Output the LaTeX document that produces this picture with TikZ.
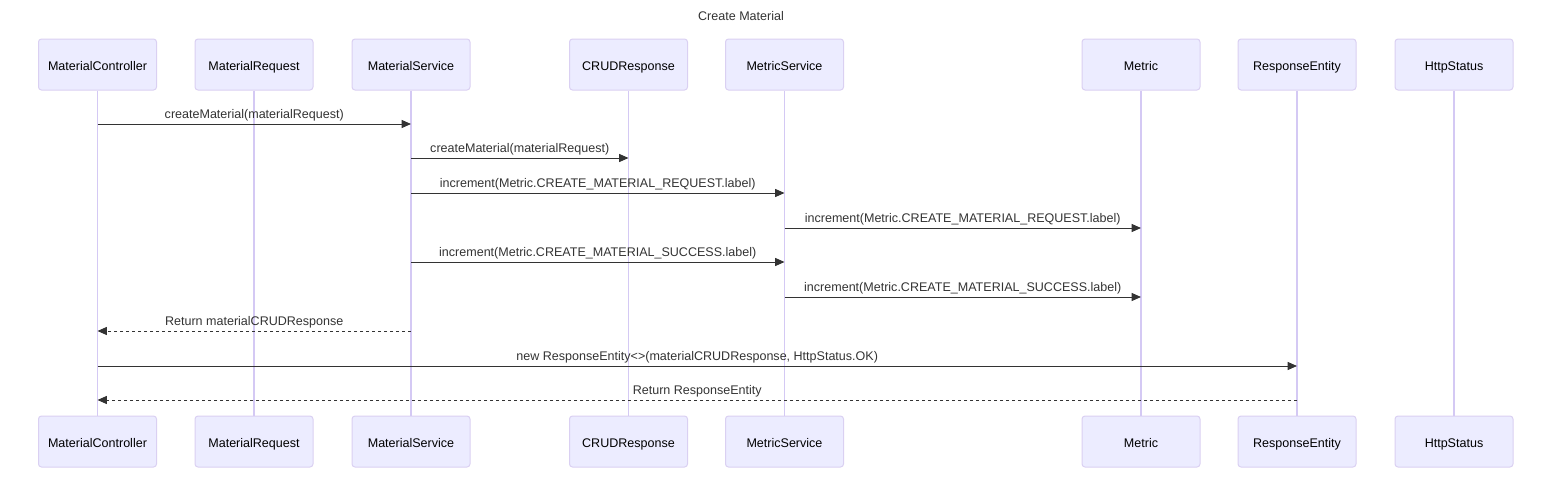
\documentclass[tikz,border=0pt]{standalone}
\usepackage{fontspec}
\setmainfont{Liberation Sans}
\usetikzlibrary{arrows.meta}
\definecolor{actorfill}{HTML}{ECECFF}
\definecolor{actorborder}{HTML}{DAD0F2}
\definecolor{lifecol}{HTML}{D4C9F4}
\definecolor{msgcol}{HTML}{333333}
\newcommand{\dfont}{\fontsize{9.4}{11.5}\selectfont}
\begin{document}
\begin{tikzpicture}[x=0.75pt,y=-0.75pt,
  actor/.style={draw=actorborder, fill=actorfill, line width=0.75pt, rounded corners=2.25pt,
    minimum width=88.5pt, minimum height=38.25pt, inner sep=0pt, font=\dfont, text=black,
    text height=1.9ex, text depth=0.1ex},
  life/.style={draw=lifecol, line width=1.2pt},
  msg/.style={draw=msgcol, line width=0.75pt, -{Triangle[length=7pt,width=6pt]}},
  ret/.style={msg, dash pattern=on 2.25pt off 2.25pt},
  lbl/.style={font=\dfont, text=msgcol, inner sep=0pt, text height=1.6ex, text depth=0.4ex, yshift=7.3pt}]
\useasboundingbox (0,0) rectangle (1568,482);
\node[font=\dfont, text=msgcol] (title) at (741,16) {Create Material};
% actors
\foreach \n/\x/\t in {mc/97.5/MaterialController, mr/254/MaterialRequest, ms/411/MaterialService,
  cr/628.5/CRUDResponse, mt/784.5/MetricService, me/1141/Metric, re/1297/ResponseEntity, hs/1454/HttpStatus}{
  \node[actor] (\n T) at (\x,64.5) {\t};
  \node[actor] (\n B) at (\x,441.5) {\t};
}
% lifelines
\foreach \n in {mc,mr,ms,cr,mt,me,re,hs}{
  \draw[life] (\n T.south) -- (\n B.north);
}
% message rows
\coordinate (m1) at (0,124);
\coordinate (m2) at (0,158);
\coordinate (m3) at (0,193);
\coordinate (m4) at (0,228);
\coordinate (m5) at (0,262);
\coordinate (m6) at (0,297);
\coordinate (m7) at (0,331);
\coordinate (m8) at (0,366);
\coordinate (m9) at (0,400);
\draw[msg] (mcT |- m1) -- (msT |- m1) node[midway,lbl] {createMaterial(materialRequest)};
\draw[msg] (msT |- m2) -- (crT |- m2) node[midway,lbl] {createMaterial(materialRequest)};
\draw[msg] (msT |- m3) -- (mtT |- m3) node[midway,lbl] {increment(Metric.CREATE\_MATERIAL\_REQUEST.label)};
\draw[msg] (mtT |- m4) -- (meT |- m4) node[midway,lbl] {increment(Metric.CREATE\_MATERIAL\_REQUEST.label)};
\draw[msg] (msT |- m5) -- (mtT |- m5) node[midway,lbl] {increment(Metric.CREATE\_MATERIAL\_SUCCESS.label)};
\draw[msg] (mtT |- m6) -- (meT |- m6) node[midway,lbl] {increment(Metric.CREATE\_MATERIAL\_SUCCESS.label)};
\draw[ret] (msT |- m7) -- (mcT |- m7) node[midway,lbl] {Return materialCRUDResponse};
\draw[msg] (mcT |- m8) -- (reT |- m8) node[midway,lbl] {new ResponseEntity<>(materialCRUDResponse, HttpStatus.OK)};
\draw[ret] (reT |- m9) -- (mcT |- m9) node[midway,lbl] {Return ResponseEntity};
\end{tikzpicture}
\end{document}
